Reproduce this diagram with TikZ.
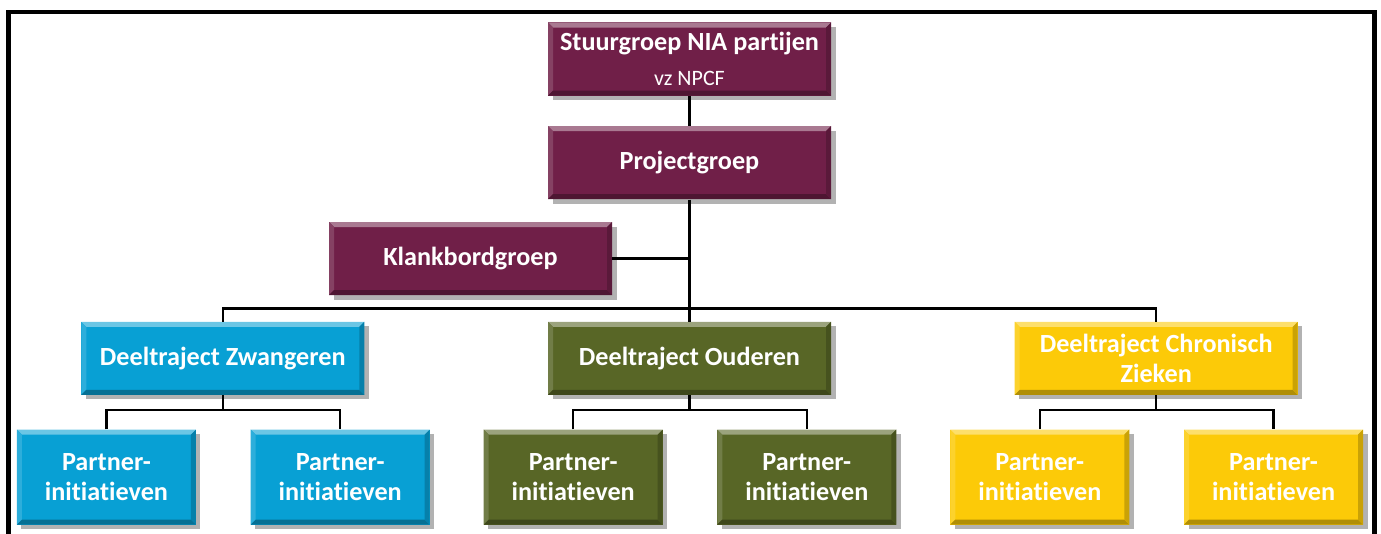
\documentclass[tikz,border=0pt]{standalone}
\usepackage{fontspec}
\setmainfont{Carlito}[RawFeature=-liga]
\usepackage{tikz}
\usetikzlibrary{calc}
\usetikzlibrary{shadows}
\usetikzlibrary{positioning}
\definecolor{paars}{RGB}{112,31,72}
\definecolor{blauw}{RGB}{8,160,212}
\definecolor{olijf}{RGB}{88,102,38}
\definecolor{geel}{RGB}{252,202,8}
\tikzset{bevel/.style={fill=#1, draw=none,
 drop shadow={shadow xshift=0.09cm, shadow yshift=-0.09cm, fill=black, opacity=0.3},
 path picture={
  \coordinate (pnw) at (path picture bounding box.north west);
  \coordinate (pne) at (path picture bounding box.north east);
  \coordinate (psw) at (path picture bounding box.south west);
  \coordinate (pse) at (path picture bounding box.south east);
  \fill[#1!60!white] (pnw) -- (pne) -- ([shift={(-0.1,-0.1)}]pne) -- ([shift={(0.1,-0.1)}]pnw) -- cycle;
  \fill[#1!85!white] (pnw) -- ([shift={(0.1,-0.1)}]pnw) -- ([shift={(0.1,0.1)}]psw) -- (psw) -- cycle;
  \fill[#1!70!black] (psw) -- (pse) -- ([shift={(-0.1,0.1)}]pse) -- ([shift={(0.1,0.1)}]psw) -- cycle;
  \fill[#1!80!black] (pne) -- (pse) -- ([shift={(-0.1,0.1)}]pse) -- ([shift={(-0.1,-0.1)}]pne) -- cycle;
 }}}
\tikzstyle{block} = [rectangle, text=white, align=center, inner sep=0pt,
 minimum width=5.66cm, minimum height=1.46cm,
 font=\fontsize{14.9}{17}\selectfont\bfseries]
\tikzstyle{partner} = [block, minimum width=3.58cm, minimum height=1.9cm]
\tikzstyle{lijn} = [draw=black, line width=1.3pt]

\begin{document}
\begin{tikzpicture}[node distance = 0cm]

\useasboundingbox (0,0) rectangle (27.62,-10.68);
\draw[line width=2.4pt] (0.17,-11) -- (0.17,-0.24) -- (27.49,-0.24) -- (27.49,-11);

\node[block, bevel=paars](stuur) at (13.79,-1.18){
Stuurgroep NIA partijen\\[3pt] {\fontsize{12.5}{14}\selectfont\mdseries vz NPCF}};
\node[block, bevel=paars, below = 0.6cm of stuur](proj){Projectgroep};
\node[block, bevel=paars](klank) at (9.41,-5.17){Klankbordgroep};

\node[block, bevel=olijf, below = 2.44cm of proj](oud){Deeltraject Ouderen};
\node[block, bevel=blauw, left = 3.66cm of oud](zwang){Deeltraject Zwangeren};
\node[block, bevel=geel, right = 3.66cm of oud](chron){Deeltraject Chronisch\\Zieken};

\foreach \d/\c in {zwang/blauw, oud/olijf, chron/geel}{
\node[partner, bevel=\c, below left = 0.68cm and 0.53cm of \d.south](\d p1){Partner-\\initiatieven};
\node[partner, bevel=\c, below right = 0.68cm and 0.55cm of \d.south](\d p2){Partner-\\initiatieven};
}

\coordinate (bus) at ($(oud.north)+(0,0.26)$);
\draw[lijn] (stuur) -- (proj);
\draw[lijn] (proj) -- (oud);
\draw[lijn] (klank.east) -- (klank.east -| proj.south);
\draw[lijn] (zwang.north) |- (bus) -| (chron.north);

\foreach \d in {zwang, oud, chron}{
\draw[lijn] (\d.south) -- ($(\d.south)+(0,-0.3)$);
\draw[lijn] (\d p1.north) |- ($(\d.south)+(0,-0.3)$) -| (\d p2.north);
}

\end{tikzpicture}
\end{document}
